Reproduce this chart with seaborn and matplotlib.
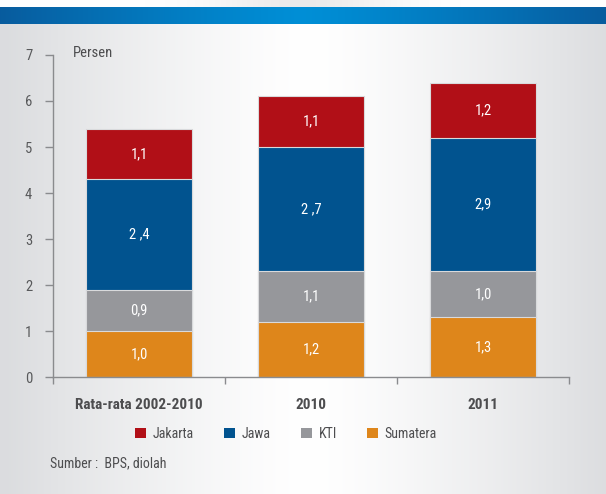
import numpy as np
import pandas as pd
import matplotlib
matplotlib.use("Agg")
import matplotlib.pyplot as plt
from matplotlib import font_manager
from matplotlib.patches import Patch
import seaborn as sns

# Data: contribution to growth (percent) by region
categories = ["Rata-rata 2002-2010", "2010", "2011"]
series = ["Jakarta", "Jawa", "KTI", "Sumatera"]
sumatera = [1.0, 1.2, 1.3]
kti = [0.9, 1.1, 1.0]
jawa = [2.4, 2.7, 2.9]
jakarta = [1.1, 1.1, 1.2]
jawa_labels = ["2 ,4", "2 ,7", "2,9"]
y_ticks = [0, 1, 2, 3, 4, 5, 6, 7]

colors = {"Jakarta": "#B10F17", "Jawa": "#01538F", "KTI": "#96979B", "Sumatera": "#DE861B"}

sns.set_theme(style="white")
installed = {f.name for f in font_manager.fontManager.ttflist}
preferred = ["Liberation Sans Narrow", "Roboto Condensed", "Open Sans Condensed", "Lato"]
family = [f for f in preferred if f in installed][:1] + ["DejaVu Sans"]
plt.rcParams["font.family"] = family

W, H = 606, 494
fig = plt.figure(figsize=(W / 100, H / 100), dpi=100)

# Panel background: grey horizontal gradient with a light center and a blue header band
xs = np.linspace(0, 1, W)
center = 0.51
t = np.clip(np.abs(xs - center) / 0.5, 0, 1) ** 1.3
light = np.array([1.0, 1.0, 1.0])
grey = np.array([0.86, 0.865, 0.875])
row = light[None, :] * (1 - t[:, None]) + grey[None, :] * t[:, None]
img = np.repeat(row[None, :, :], H, axis=0)
blue_c = np.array([0.0, 0.56, 0.84])
blue_e = np.array([0.03, 0.36, 0.62])
tb = np.clip(np.abs(xs - 0.5) / 0.5, 0, 1) ** 1.2
brow = blue_c[None, :] * (1 - tb[:, None]) + blue_e[None, :] * tb[:, None]
img[7:24] = brow[None, :, :]
shade = 1 - 0.08 * np.exp(-((xs - 0.5) / 0.15) ** 2)
img[0:7] = (np.ones((W, 3)) * shade[:, None])[None, :, :]
fig.figimage(img, xo=0, yo=0, origin="upper", zorder=-10)

ax = fig.add_axes([53 / W, 117 / H, 516 / W, 322 / H])
ax.set_facecolor("none")
ax.set_zorder(1)

# Stack the series by drawing cumulative totals, tallest first
stack_order = ["Sumatera", "KTI", "Jawa", "Jakarta"]
vals = {"Sumatera": sumatera, "KTI": kti, "Jawa": jawa, "Jakarta": jakarta}
cum = {}
running = np.zeros(len(categories))
for s in stack_order:
    running = running + np.array(vals[s])
    cum[s] = running.copy()

for s in reversed(stack_order):
    df = pd.DataFrame({"kategori": categories, "nilai": cum[s]})
    sns.barplot(data=df, x="kategori", y="nilai", color=colors[s], saturation=1,
                width=0.62, edgecolor="#D9DADC", linewidth=0.8, ax=ax, zorder=2)

# Value labels centred in each segment
for s in stack_order:
    for i, v in enumerate(vals[s]):
        mid = cum[s][i] - v / 2
        txt = jawa_labels[i] if s == "Jawa" else f"{v:.1f}".replace(".", ",")
        ax.text(i, mid, txt, ha="center", va="center", color="white", fontsize=10.5, zorder=3)

ax.set_xlim(-0.5, 2.5)
ax.set_ylim(0, 7)
ax.set_yticks(y_ticks)
ax.set_yticklabels([str(v) for v in y_ticks])
ax.set_xticks(range(len(categories)))
ax.set_xticklabels(categories, fontweight="bold", fontsize=11, color="#4D4D4F")
ax.set_xticks([-0.5, 0.5, 1.5, 2.5], minor=True)
ax.tick_params(axis="x", which="major", length=0, pad=15)
ax.tick_params(axis="x", which="minor", length=5, width=1, color="#8A8B8E", direction="out", bottom=True)
ax.tick_params(axis="y", length=6, width=1, color="#8A8B8E", direction="out", left=True,
               labelsize=10.5, labelcolor="#58595B", pad=9)
ax.set_xlabel("")
ax.set_ylabel("")
for side in ["top", "right"]:
    ax.spines[side].set_visible(False)
for side in ["left", "bottom"]:
    ax.spines[side].set_color("#8A8B8E")
    ax.spines[side].set_linewidth(1)

fig.text(73 / W, 1 - 53 / H, "Persen", ha="left", va="center", fontsize=10.5, color="#4D4D4F")

handles = [Patch(facecolor=colors[s], edgecolor="none", label=s) for s in series]
fig.legend(handles=handles, loc="center", bbox_to_anchor=(286 / W, 1 - 434 / H), ncol=4,
           frameon=False, fontsize=10, handlelength=0.75, handleheight=0.75,
           handletextpad=0.5, columnspacing=2.2, labelcolor="#4D4D4F")

fig.text(50 / W, 1 - 463 / H, "Sumber :  BPS, diolah", ha="left", va="center",
         fontsize=10, color="#4D4D4F")

fig.savefig("out.png", dpi=100)
